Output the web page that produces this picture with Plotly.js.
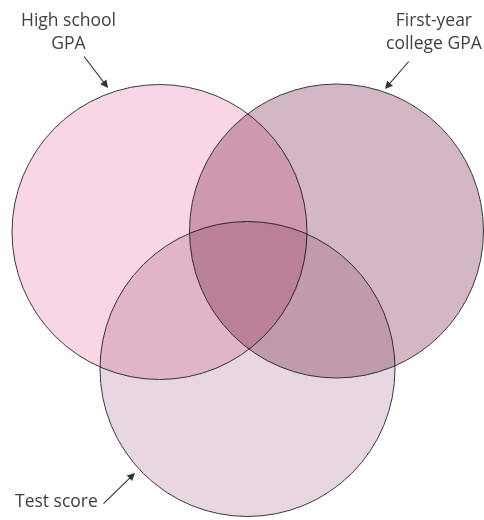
<!DOCTYPE html>
<html>
<head>
<meta charset="utf-8">
<script src="https://cdn.plot.ly/plotly-3.0.1.min.js"></script>
<style>
  html, body { margin: 0; padding: 0; background: #fff; }
  #chart { width: 484px; height: 520px; }
  .shapelayer g, .shapelayer path { mix-blend-mode: multiply; }
</style>
</head>
<body>
<div id="chart"></div>
<script>
// Venn sets
const setNames   = ["High school GPA", "First-year college GPA", "Test score"];
const setCenterX = [159.5, 336.5, 247.5];
const setCenterY = [232, 231, 369];
const setRadius  = [147.5, 147, 147.5];
const setColors  = ["#f9d6e5", "#d3b7c4", "#e8d7e1"];

// Labels
const labelText  = ["High school<br>GPA", "First-year<br>college GPA", "Test score"];
const labelX     = [68, 434, 56];
const labelY     = [30, 30, 500];
const arrowTailX = [83, 410, 102];
const arrowTailY = [55, 60, 505];
const arrowHeadX = [108, 385, 135];
const arrowHeadY = [88, 89, 473];

const shapes = setNames.map((n, i) => ({
  type: "circle",
  xref: "x", yref: "y",
  x0: setCenterX[i] - setRadius[i], x1: setCenterX[i] + setRadius[i],
  y0: setCenterY[i] - setRadius[i], y1: setCenterY[i] + setRadius[i],
  fillcolor: setColors[i],
  line: { color: "#3a3a3a", width: 1 },
  layer: "above"
}));

const annotations = [];
labelText.forEach((t, i) => {
  annotations.push({
    x: labelX[i], y: labelY[i], xref: "x", yref: "y",
    text: t, showarrow: false,
    font: { family: "Open Sans, sans-serif", size: 17.5, color: "#404048" },
    align: "center", xanchor: "center", yanchor: "middle"
  });
  annotations.push({
    x: arrowHeadX[i], y: arrowHeadY[i], xref: "x", yref: "y",
    ax: arrowTailX[i], ay: arrowTailY[i], axref: "x", ayref: "y",
    text: "", showarrow: true, arrowhead: 2, arrowsize: 1.4,
    arrowwidth: 1.1, arrowcolor: "#333333", standoff: 0, startstandoff: 0
  });
});

const layout = {
  width: 484, height: 520,
  margin: { l: 0, r: 0, t: 0, b: 0 },
  paper_bgcolor: "#ffffff", plot_bgcolor: "#ffffff",
  xaxis: { range: [0, 484], visible: false, fixedrange: true },
  yaxis: { range: [520, 0], visible: false, fixedrange: true },
  shapes: shapes,
  annotations: annotations,
  showlegend: false
};

Plotly.newPlot("chart", [{ x: [], y: [], type: "scatter", mode: "markers", hoverinfo: "skip" }], layout, { staticPlot: true, displayModeBar: false }).then(() => {
  document.querySelectorAll(".shapelayer path").forEach(p => { p.style.mixBlendMode = "multiply"; });
});
</script>
</body>
</html>
